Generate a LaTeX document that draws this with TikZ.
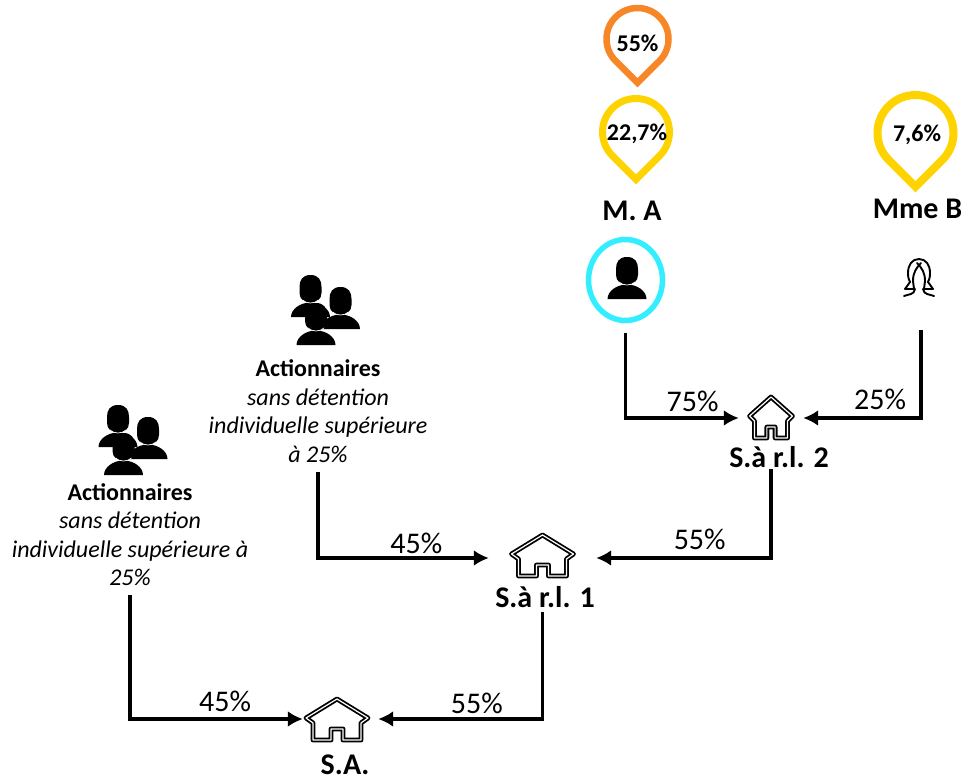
\documentclass[tikz,border=0pt]{standalone}
\usepackage{fontspec}
\setmainfont{Carlito}
\usetikzlibrary{arrows.meta,positioning,shapes}
\usepackage{xcolor}
\definecolor{pinorange}{RGB}{247,134,38}
\definecolor{pinyellow}{RGB}{255,211,0}
\definecolor{ringcyan}{RGB}{51,238,255}
\tikzset{
    link/.style={draw,-{Latex[length=15pt,width=16pt]},line width=3.2pt},
    housebox/.style={rectangle,inner sep=0pt},
    boldlabel/.style={font=\fontsize{30}{34}\selectfont\bfseries,inner sep=0pt},
    pinlabel/.style={font=\fontsize{24}{28}\selectfont\bfseries,inner sep=0pt},
    sharelabel/.style={font=\fontsize{30}{34}\selectfont,inner sep=1pt,above},
    holders/.style={align=center,anchor=south,inner xsep=3pt,inner ysep=9pt,font=\fontsize{24}{28.5}\selectfont},
    housepic/.pic={
        \draw[line width=1.8pt,double=white,double distance=1.2pt,line join=round]
            (0,21) -- (31,2) -- (24,-3) -- (24,-20) -- (6,-20) -- (6,-9) -- (-6,-9) -- (-6,-20)
            -- (-24,-20) -- (-24,-3) -- (-31,2) -- cycle;
    },
    personpic/.pic={
        \fill (-19.5,-28) .. controls (-19.5,-20) and (-10,-13.5) .. (0,-13.5)
            .. controls (10,-13.5) and (19.5,-20) .. (19.5,-28) -- cycle;
        \fill (0,14) .. controls (8,14) and (11,9) .. (11,2) -- (11,-4)
            .. controls (11,-10) and (6,-14) .. (0,-14)
            .. controls (-6,-14) and (-11,-10) .. (-11,-4) -- (-11,2)
            .. controls (-11,9) and (-8,14) .. (0,14) -- cycle;
        \draw[white,line width=.7pt] (-8,-11) .. controls (-4,-15) and (4,-15) .. (8,-11);
    },
    grouppic/.pic={
        \pic at (5,-12) {personpic};
        \pic at (-25,0) {personpic};
        \pic at (-19.5,-28) {personpic};
    },
    womanpic/.pic={
        \foreach \side in {1,-1}{
            \draw[xscale=\side,line width=1.9pt,line cap=round,line join=round]
                (0,19) .. controls (-7,19) and (-11,13) .. (-11,5)
                .. controls (-11,0) and (-10,-2) .. (-9,-4) -- (-14,-11) -- (-5,-11) -- (-6,-3)
                .. controls (-6,5) and (-3,10) .. (2,15)
                (-15,-18) .. controls (-10,-16) and (-5,-17) .. (-4,-11);
        }
    },
    pinpic/.pic={
        \draw[line width=\pinwidth,pic actions,miter limit=10]
            (-45:\pinradius) arc [start angle=-45,end angle=225,radius=\pinradius]
            -- (0,-1.414*\pinradius) -- cycle;
    }
}
\newcommand{\pinwidth}{6pt}
\newcommand{\pinradius}{30}
\begin{document}
\begin{tikzpicture}[x=1pt,y=1pt,every text node part/.style={align=center}]
        \useasboundingbox (0,0) rectangle (961,-778);

        \def\pinwidth{6.5pt}\def\pinradius{31}
        \pic[draw=pinorange] at (637.5,-39) {pinpic};
        \def\pinwidth{7pt}\def\pinradius{33.5}
        \pic[draw=pinyellow] at (636,-132) {pinpic};
        \def\pinwidth{8pt}\def\pinradius{38}
        \pic[draw=pinyellow] at (915.5,-133) {pinpic};
        \node[pinlabel] (pin1) at (637.5,-43) {55\%};
        \node[pinlabel] (pin2) at (637,-134) {22,7\%};
        \node[pinlabel] (pin3) at (917,-135) {7,6\%};

        \node[boldlabel] (nameA) at (632,-211) {M. A};
        \node[boldlabel] (nameB) at (917.5,-209) {Mme B};

        \node[draw=ringcyan,ellipse,line width=5.5pt,minimum width=74pt,minimum height=81pt,outer sep=12pt] (ma) at (625.5,-280) {};
        \pic at (627,-271) {personpic};

        \node[rectangle,minimum width=34pt,minimum height=74pt,inner sep=0pt] (mmeb) at (921,-293) {};
        \pic at (919,-278) {womanpic};

        \pic at (335.5,-289) {grouppic};
        \pic at (143,-419) {grouppic};

        \node[holders] (act1) at (318,-471.5) {\textbf{Actionnaires}\\\textit{sans détention}\\\textit{individuelle supérieure}\\\textit{à 25\%}};
        \node[holders] (act2) at (130,-595) {\textbf{Actionnaires}\\\textit{sans détention}\\\textit{individuelle supérieure à}\\\textit{25\%}};

        \node[housebox,minimum width=64pt,minimum height=102pt] (sarl2) at (771,-418) {};
        \node[housebox,minimum width=107pt,minimum height=108pt] (sarl1) at (542.5,-558) {};
        \node[housebox,minimum width=75pt,minimum height=44pt] (sa) at (340.5,-719) {};
        \pic[xscale=.69] at (771,-418) {housepic};
        \pic at (542.5,-556) {housepic};
        \pic at (337,-720) {housepic};

        \node[boldlabel] (sarl2name) at (779,-457) {S.à r.l. 2};
        \node[boldlabel] (sarl1name) at (545,-597) {S.à r.l. 1};
        \node[boldlabel] (saname) at (345,-765) {S.A.};

        \path[link](ma) |- node [sharelabel,pos=.796,yshift=4pt] {75\%} (sarl2);
        \path[link](mmeb) |- node [sharelabel,pos=.674,yshift=6pt] {25\%} (sarl2);
        \path[link](sarl2) |- node [sharelabel,pos=.704,yshift=6pt] {55\%} (sarl1);
        \path[link](act1) |- node [sharelabel,pos=.788,yshift=2pt] {45\%} (sarl1);
        \path[link](sarl1) |- node [sharelabel,pos=.70,yshift=3pt] {55\%} (sa);
        \path[link](act2) |- node [sharelabel,pos=.775,yshift=5pt] {45\%} (sa);
        \end{tikzpicture}
\end{document}
